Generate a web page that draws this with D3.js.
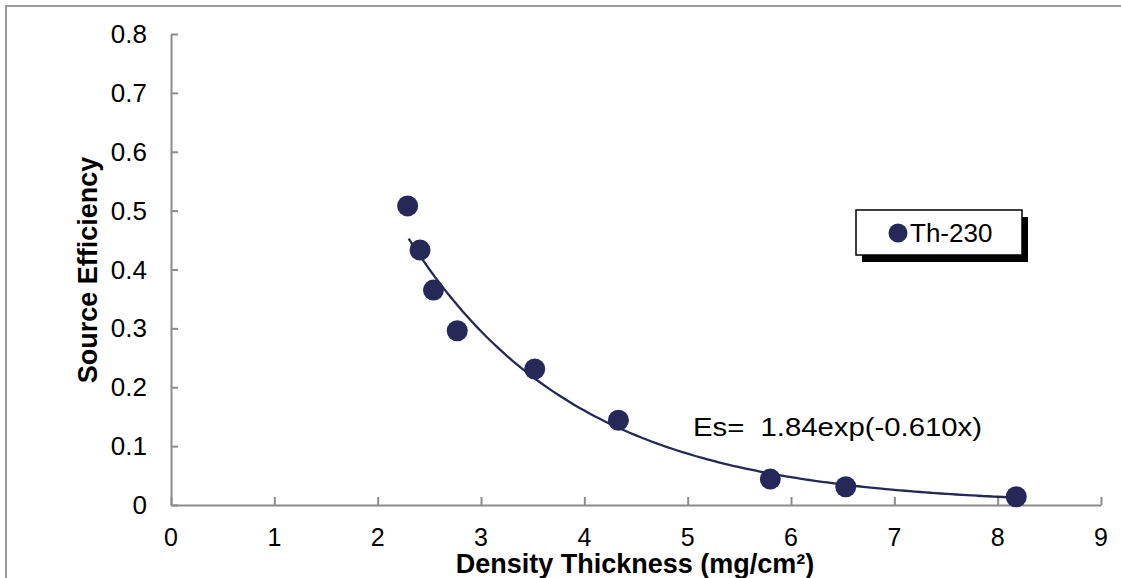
<!DOCTYPE html>
<html>
<head>
<meta charset="utf-8">
<script src="https://cdn.jsdelivr.net/npm/d3@7"></script>
<style>
  body { margin: 0; background: #fff; }
  text { font-family: "Liberation Sans", Arial, sans-serif; }
</style>
</head>
<body>
<div id="chart"></div>
<script>
// data
var thickness = [2.29, 2.41, 2.54, 2.77, 3.52, 4.33, 5.80, 6.53, 8.18],
  efficiency = [0.508, 0.433, 0.365, 0.296, 0.231, 0.144, 0.044, 0.031, 0.014];
var xTicks = [0, 1, 2, 3, 4, 5, 6, 7, 8, 9],
  yTicks = [0, 0.1, 0.2, 0.3, 0.4, 0.5, 0.6, 0.7, 0.8];
// exponential fit shown on chart: Es = A exp(B x)
var fitA = 1.84, fitB = -0.610, fitRange = [2.3, 8.1];
var seriesName = "Th-230";

var svg_dx = 1121, svg_dy = 578;
var navy = "#262858", axisGray = "#8c8c8c";

var xScale = d3.scaleLinear().domain([0, 9]).range([171, 1101]);
var yScale = d3.scaleLinear().domain([0, 0.8]).range([505, 34]);

var svg = d3.select("#chart")
  .append("svg")
  .attr("width", svg_dx)
  .attr("height", svg_dy);

// outer chart-area border (runs off right/bottom edge)
svg.append("rect")
  .attr("x", 6).attr("y", 6)
  .attr("width", 1300).attr("height", 700)
  .attr("fill", "none")
  .attr("stroke", "#9a9a9a")
  .attr("stroke-width", 2);

// axes
var axis_x = d3.axisTop(xScale).tickValues(xTicks).tickSize(8).tickSizeOuter(0).tickFormat("");
var axis_y = d3.axisRight(yScale).tickValues(yTicks).tickSize(7).tickSizeOuter(0).tickFormat("");

svg.append("g")
  .attr("transform", "translate(0," + yScale(0) + ")")
  .call(axis_x)
  .call(g => g.selectAll("path, line").attr("stroke", axisGray).attr("stroke-width", 2));

svg.append("g")
  .attr("transform", "translate(" + xScale(0) + ",0)")
  .call(axis_y)
  .call(g => g.selectAll("path, line").attr("stroke", axisGray).attr("stroke-width", 2));

// tick labels
svg.append("g").selectAll("text")
  .data(xTicks)
  .enter()
  .append("text")
  .attr("x", d => xScale(d))
  .attr("y", 546)
  .attr("text-anchor", "middle")
  .attr("font-size", 25)
  .text(d => d);

svg.append("g").selectAll("text")
  .data(yTicks)
  .enter()
  .append("text")
  .attr("x", 147)
  .attr("y", d => yScale(d) + 9)
  .attr("text-anchor", "end")
  .attr("font-size", 26)
  .text(d => d3.format("")(+d.toFixed(1)));

// axis titles
svg.append("text")
  .attr("x", 635)
  .attr("y", 573)
  .attr("text-anchor", "middle")
  .attr("font-size", 27)
  .attr("font-weight", "bold")
  .text("Density Thickness (mg/cm²)");

svg.append("text")
  .attr("transform", "translate(97,270) rotate(-90)")
  .attr("text-anchor", "middle")
  .attr("font-size", 27)
  .attr("font-weight", "bold")
  .text("Source Efficiency");

// trend line
var fitXs = d3.range(fitRange[0], fitRange[1] + 0.001, 0.05);
var line = d3.line()
  .x(d => xScale(d))
  .y(d => yScale(fitA * Math.exp(fitB * d)))
  .curve(d3.curveMonotoneX);

svg.append("path")
  .datum(fitXs)
  .attr("d", line)
  .attr("fill", "none")
  .attr("stroke", navy)
  .attr("stroke-width", 2.3);

// points
svg.append("g").selectAll("circle")
  .data(thickness)
  .enter()
  .append("circle")
  .attr("cx", d => xScale(d))
  .attr("cy", (d, i) => yScale(efficiency[i]))
  .attr("r", 10.5)
  .attr("fill", navy);

// equation label
svg.append("text")
  .attr("x", 693)
  .attr("y", 436)
  .attr("font-size", 26)
  .attr("textLength", 289)
  .attr("lengthAdjust", "spacingAndGlyphs")
  .style("white-space", "pre")
  .text("Es=  " + fitA + "exp(" + fitB.toFixed(3) + "x)");

// legend with shadow
var lg = svg.append("g");
lg.append("rect")
  .attr("x", 862).attr("y", 217)
  .attr("width", 166).attr("height", 45)
  .attr("fill", "#000");
lg.append("rect")
  .attr("x", 856).attr("y", 210)
  .attr("width", 166).attr("height", 45)
  .attr("fill", "#fff")
  .attr("stroke", "#000")
  .attr("stroke-width", 1.5);
lg.append("circle")
  .attr("cx", 898).attr("cy", 233)
  .attr("r", 9.5)
  .attr("fill", navy);
lg.append("text")
  .attr("x", 910).attr("y", 242)
  .attr("font-size", 26)
  .text(seriesName);
</script>
</body>
</html>
